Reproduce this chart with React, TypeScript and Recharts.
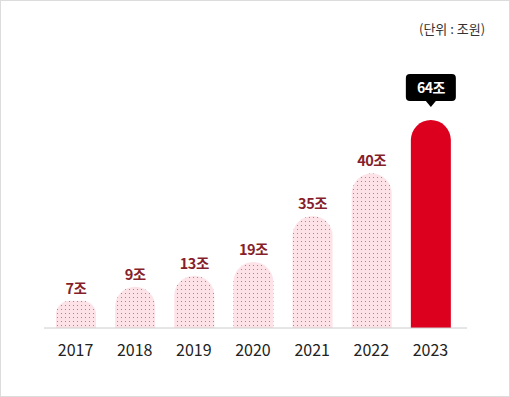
import { Bar, BarChart, Cell, LabelList, XAxis, YAxis } from "recharts";

const years = ["2017", "2018", "2019", "2020", "2021", "2022", "2023"];
// 표시 금액 (조원)
const amounts = [7, 9, 13, 19, 35, 40, 64];
// 그림에 그려진 막대 높이 (64 기준으로 읽은 값, 실제 비율과 다름)
const barLevels = [8.4, 12.7, 16.1, 20.3, 34.5, 47.6, 64];

const chartData = years.map((year, i) => ({
	year,
	amount: amounts[i],
	level: barLevels[i],
}));

const FONT = "'Noto Sans CJK KR', 'Noto Sans', sans-serif";
const HIGHLIGHT = years.length - 1;

function renderLabel(props: any) {
	const { x, y, width, index } = props;
	const cx = x + width / 2;
	const text = `${amounts[index]}조`;
	if (index === HIGHLIGHT) {
		const boxW = 50;
		const boxTop = y - 46;
		const boxBottom = y - 19;
		return (
			<g>
				<rect x={cx - boxW / 2} y={boxTop} width={boxW} height={boxBottom - boxTop} rx={4} fill="#000" />
				<path d={`M${cx - 5},${boxBottom} L${cx},${boxBottom + 6} L${cx + 5},${boxBottom} Z`} fill="#000" />
				<text
					x={cx}
					y={(boxTop + boxBottom) / 2}
					dy="0.36em"
					textAnchor="middle"
					fill="#fff"
					fontSize={14}
					fontWeight={700}
					fontFamily={FONT}
					letterSpacing={-0.5}
				>
					{text}
				</text>
			</g>
		);
	}
	return (
		<text
			x={cx}
			y={y - 7}
			textAnchor="middle"
			fill="#861f2c"
			fontSize={14.5}
			fontWeight={700}
			fontFamily={FONT}
			letterSpacing={-0.5}
		>
			{text}
		</text>
	);
}

export default function App() {
	return (
		<div
			style={{
				position: "absolute",
				left: 0,
				top: 0,
				width: 510,
				height: 397,
				boxSizing: "border-box",
				border: "1px solid #dcdcdc",
				background: "#fff",
				fontFamily: FONT,
			}}
		>
			<div
				style={{
					position: "absolute",
					left: 418,
					top: 18,
					fontSize: 13,
					color: "#333",
					whiteSpace: "nowrap",
				}}
			>
				(단위 : 조원)
			</div>
			<div style={{ position: "absolute", left: -1, top: -1 }}>
				<BarChart
					width={510}
					height={397}
					data={chartData}
					margin={{ top: 60, right: 43, bottom: 39, left: 44 }}
				>
					<defs>
						<pattern id="dots" width={4} height={4} patternUnits="userSpaceOnUse">
							<rect width={4} height={4} fill="#fde2e8" />
							<rect x={1} y={1} width={1} height={1} fill="#b97d8c" />
						</pattern>
					</defs>
					<XAxis
						dataKey="year"
						axisLine={{ stroke: "#cccccc" }}
						tickLine={false}
						tickSize={0}
						tickMargin={17}
						height={30}
						padding={{ left: 2, right: 7 }}
						tick={{ fontSize: 16, fill: "#222", fontFamily: FONT }}
					/>
					<YAxis hide domain={[0, 82.5]} />
					<Bar dataKey="level" barSize={40} radius={[20, 20, 0, 0]} isAnimationActive={false}>
						{chartData.map((d, i) => (
							<Cell key={d.year} fill={i === HIGHLIGHT ? "#dc001e" : "url(#dots)"} />
						))}
						<LabelList dataKey="amount" content={renderLabel} />
					</Bar>
				</BarChart>
			</div>
		</div>
	);
}
